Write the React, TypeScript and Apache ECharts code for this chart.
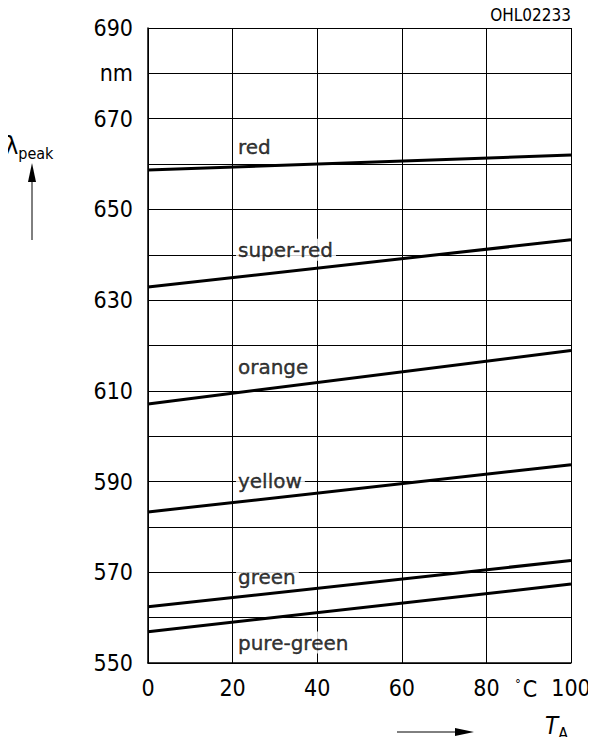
import React, { useEffect, useRef } from "react";
import * as echarts from "echarts";

const temperatures = [0, 100];
const seriesNames = ["red", "super-red", "orange", "yellow", "green", "pure-green"];
const redValues = [658.7, 662.0];
const superRedValues = [632.9, 643.3];
const orangeValues = [607.1, 618.9];
const yellowValues = [583.3, 593.7];
const greenValues = [562.4, 572.6];
const pureGreenValues = [556.9, 567.4];
const labelX = [20.8, 20.8, 20.8, 20.8, 20.8, 20.8];
const labelY = [663.7, 641.1, 615.2, 590.2, 568.9, 554.5];
const yTickLabels = [550, 570, 590, 610, 630, 650, 670, 690];
const xTickLabels = [0, 20, 40, 60, 80, 100];

const FONT = "DejaVu Sans Condensed, DejaVu Sans, sans-serif";
const WIDE = "DejaVu Sans, sans-serif";

export default function App() {
  const ref = useRef<HTMLDivElement>(null);
  useEffect(() => {
    if (!ref.current) return;
    const chart = echarts.init(ref.current, null, { renderer: "svg" });
    const all = [redValues, superRedValues, orangeValues, yellowValues, greenValues, pureGreenValues];
    const lineSeries = all.map((vals, i) => ({
      type: "line",
      name: seriesNames[i],
      data: temperatures.map((t, j) => [t, vals[j]]),
      showSymbol: false,
      lineStyle: { color: "#000", width: 3 },
      z: 3,
    }));
    chart.setOption({
      animation: false,
      backgroundColor: "#fff",
      grid: { left: 148, right: 25, top: 28, bottom: 82, containLabel: false },
      xAxis: {
        type: "value",
        min: 0,
        max: 100,
        interval: 20,
        axisLine: { show: true, lineStyle: { color: "#000", width: 1.5 } },
        axisTick: { show: false },
        splitLine: { show: true, lineStyle: { color: "#000", width: 1 } },
        axisLabel: {
          margin: 13,
          color: "#000",
          fontSize: 23,
          fontFamily: FONT,
          formatter: (v: number) => (xTickLabels.includes(v) ? String(v) : ""),
        },
      },
      yAxis: {
        type: "value",
        min: 550,
        max: 690,
        interval: 10,
        axisLine: { show: true, lineStyle: { color: "#000", width: 1.5 } },
        axisTick: { show: false },
        splitLine: { show: true, lineStyle: { color: "#000", width: 1 } },
        axisLabel: {
          margin: 15,
          color: "#000",
          fontSize: 23,
          fontFamily: FONT,
          formatter: (v: number) => (yTickLabels.includes(v) ? String(v) : v === 680 ? "nm" : ""),
        },
      },
      series: [
        ...lineSeries,
        {
          type: "scatter",
          name: "labels",
          data: labelX.map((x, i) => ({ value: [x, labelY[i]], name: seriesNames[i] })),
          symbolSize: 0,
          z: 5,
          label: {
            show: true,
            position: "right",
            distance: 0,
            formatter: (p: any) => p.name,
            color: "#000",
            fontSize: 20,
            fontFamily: WIDE,
            textBorderColor: "#000",
            textBorderWidth: 0.4,
            backgroundColor: "#fff",
            padding: [1, 3, 1, 2],
          },
        },
      ],
      graphic: [
        {
          type: "text",
          right: 25,
          top: 6,
          style: { text: "OHL02233", fontSize: 17, fontFamily: FONT, fill: "#000" },
        },
        {
          type: "text",
          left: 515,
          top: 677,
          style: {
            text: "{d|°}{c|C}",
            rich: {
              d: { fontSize: 13, fontFamily: FONT, fill: "#000", padding: [0, 2, 10, 0] },
              c: { fontSize: 23, fontFamily: FONT, fill: "#000" },
            },
          },
        },
        {
          type: "text",
          left: 5,
          top: 133,
          style: {
            text: "{a|λ}{b|peak}",
            rich: {
              a: { fontSize: 25, fontFamily: FONT, fill: "#000", verticalAlign: "top" },
              b: { fontSize: 16, fontFamily: FONT, fill: "#000", padding: [12, 0, 0, 0] },
            },
          },
        },
        {
          type: "line",
          shape: { x1: 32, y1: 240, x2: 32, y2: 178 },
          style: { stroke: "#000", lineWidth: 1 },
        },
        {
          type: "polygon",
          shape: { points: [[32, 163], [28, 182], [36, 182]] },
          style: { fill: "#000" },
        },
        {
          type: "line",
          shape: { x1: 397, y1: 732, x2: 458, y2: 732 },
          style: { stroke: "#000", lineWidth: 1 },
        },
        {
          type: "polygon",
          shape: { points: [[474, 732], [455, 728], [455, 736]] },
          style: { fill: "#000" },
        },
        {
          type: "text",
          left: 545,
          top: 714,
          style: {
            text: "{a|T}{b|A}",
            rich: {
              a: { fontSize: 24, fontStyle: "italic", fontFamily: FONT, fill: "#000" },
              b: { fontSize: 16, fontFamily: FONT, fill: "#000", padding: [14, 0, 0, 0] },
            },
          },
        },
      ],
    });
    return () => chart.dispose();
  }, []);
  return <div ref={ref} style={{ width: 596, height: 745, margin: -8 }} />;
}
